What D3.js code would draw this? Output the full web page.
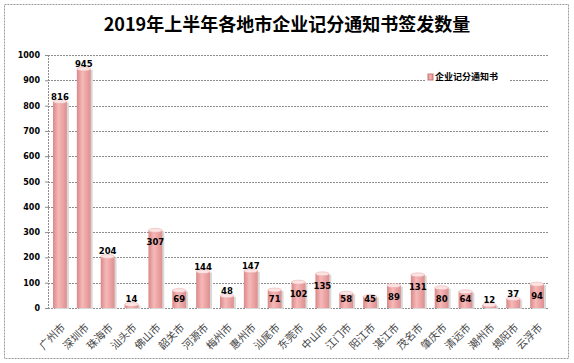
<!DOCTYPE html>
<html>
<head>
<meta charset="utf-8">
<script src="https://cdn.jsdelivr.net/npm/d3@7"></script>
<style>
  body { margin: 0; background: #fff; }
  svg { display: block; }
</style>
</head>
<body>
<script>
// chart data
const cities = ["广州市", "深圳市", "珠海市", "汕头市", "佛山市", "韶关市", "河源市", "梅州市", "惠州市", "汕尾市",
  "东莞市", "中山市", "江门市", "阳江市", "湛江市", "茂名市", "肇庆市", "清远市", "潮州市", "揭阳市", "云浮市"];
const counts = [816, 945, 204, 14, 307, 69, 144, 48, 147, 71, 102, 135, 58, 45, 89, 131, 80, 64, 12, 37, 94];
// where each value label sits, as excel put them
const labelPlace = ["above", "above", "above", "above", "inside", "inside", "above", "above", "above", "inside",
  "inside", "inside", "inside", "inside", "inside", "inside", "inside", "inside", "above", "above", "inside"];
const yTicks = [0, 100, 200, 300, 400, 500, 600, 700, 800, 900, 1000];
const seriesName = "企业记分通知书";
const title = "2019年上半年各地市企业记分通知书签发数量";

const width = 574, height = 363;
const margin = {top: 55, right: 25, bottom: 55, left: 48};
const cjk = "'Noto Sans CJK SC', 'DejaVu Sans', sans-serif";

const svg = d3.select("body").append("svg")
  .attr("width", width)
  .attr("height", height);

const defs = svg.append("defs");
const grad = defs.append("linearGradient").attr("id", "barGrad");
grad.append("stop").attr("offset", "0%").attr("stop-color", "#d98888");
grad.append("stop").attr("offset", "40%").attr("stop-color", "#f7b8b8");
grad.append("stop").attr("offset", "100%").attr("stop-color", "#de8f8f");

// outer frame
svg.append("rect")
  .attr("x", 4.5).attr("y", 4.5)
  .attr("width", 564).attr("height", 354)
  .style("fill", "none")
  .style("stroke", "#999")
  .style("stroke-dasharray", "2,1");

svg.append("text")
  .attr("x", 287).attr("y", 31)
  .attr("text-anchor", "middle")
  .style("font-family", cjk)
  .style("font-weight", "bold")
  .style("font-size", "18px")
  .text(title);

const x = d3.scaleBand()
  .domain(cities)
  .range([margin.left, width - margin.right])
  .paddingInner(0.42)
  .paddingOuter(0.21);

const y = d3.scaleLinear()
  .domain([0, 1000])
  .range([height - margin.bottom, margin.top]);

// gridlines
svg.append("g")
  .selectAll("line")
  .data(yTicks)
  .enter()
  .append("line")
  .attr("x1", margin.left)
  .attr("x2", width - margin.right)
  .attr("y1", d => Math.round(y(d)) + 0.5)
  .attr("y2", d => Math.round(y(d)) + 0.5)
  .style("stroke", "#8c8c8c")
  .style("stroke-dasharray", "2,1");

svg.append("line")
  .attr("x1", margin.left + 0.5).attr("x2", margin.left + 0.5)
  .attr("y1", y(1000)).attr("y2", y(0))
  .style("stroke", "#8c8c8c")
  .style("stroke-dasharray", "2,1");

// y axis labels
const yAxis = svg.append("g")
  .attr("transform", `translate(${margin.left},0)`)
  .call(d3.axisLeft(y).tickValues(yTicks).tickFormat(d3.format("d")).tickSize(3).tickPadding(5));
yAxis.select(".domain").remove();
yAxis.selectAll("line").style("stroke", "#8c8c8c");
yAxis.selectAll("text")
  .style("font-family", "'DejaVu Sans', sans-serif")
  .style("font-weight", "bold")
  .style("font-size", "8px")
  .style("fill", "#000");

// bars
const bars = svg.append("g");
const bw = x.bandwidth();

bars.selectAll(".shadow")
  .data(counts)
  .enter()
  .append("rect")
  .attr("class", "shadow")
  .attr("x", (d, i) => x(cities[i]) + 2)
  .attr("y", d => y(d) + 1)
  .attr("width", bw)
  .attr("height", d => y(0) - y(d))
  .style("fill", "#d8d8d8");

bars.selectAll(".bar")
  .data(counts)
  .enter()
  .append("rect")
  .attr("class", "bar")
  .attr("x", (d, i) => x(cities[i]))
  .attr("y", d => y(d))
  .attr("width", bw)
  .attr("height", d => y(0) - y(d))
  .style("fill", "url(#barGrad)");

bars.selectAll(".cap")
  .data(counts)
  .enter()
  .append("ellipse")
  .attr("class", "cap")
  .attr("cx", (d, i) => x(cities[i]) + bw / 2)
  .attr("cy", d => y(d))
  .attr("rx", bw / 2)
  .attr("ry", 2)
  .style("fill", "#fce4e4")
  .style("stroke", "#e7a5a5")
  .style("stroke-width", 0.5);

// value labels
svg.append("g")
  .selectAll("text")
  .data(counts)
  .enter()
  .append("text")
  .attr("x", (d, i) => x(cities[i]) + bw / 2)
  .attr("y", (d, i) => labelPlace[i] === "above" ? y(d) - 5 : Math.min(y(d) + 12, y(0) - 9))
  .attr("dy", "0.35em")
  .attr("text-anchor", "middle")
  .style("font-family", "'DejaVu Sans', sans-serif")
  .style("font-weight", "bold")
  .style("font-size", "8.5px")
  .text(d => d);

// category labels
svg.append("g")
  .selectAll("text")
  .data(cities)
  .enter()
  .append("text")
  .attr("transform", d => `translate(${x(d) + bw / 2 + 6},${y(0) + 20}) rotate(-45)`)
  .attr("text-anchor", "end")
  .style("font-family", cjk)
  .style("font-size", "10.5px")
  .style("fill", "#444")
  .text(d => d);

// legend
const legend = svg.append("g").attr("transform", "translate(426,71)");
legend.append("rect")
  .attr("x", 0).attr("y", 0)
  .attr("width", 84).attr("height", 12)
  .style("fill", "#fff");
legend.append("rect")
  .attr("x", 2).attr("y", 3)
  .attr("width", 5).attr("height", 6)
  .style("fill", "url(#barGrad)")
  .style("stroke", "#c77");
legend.append("text")
  .attr("x", 9).attr("y", 6)
  .attr("dy", "0.35em")
  .style("font-family", cjk)
  .style("font-weight", "bold")
  .style("font-size", "9px")
  .text(seriesName);
</script>
</body>
</html>
